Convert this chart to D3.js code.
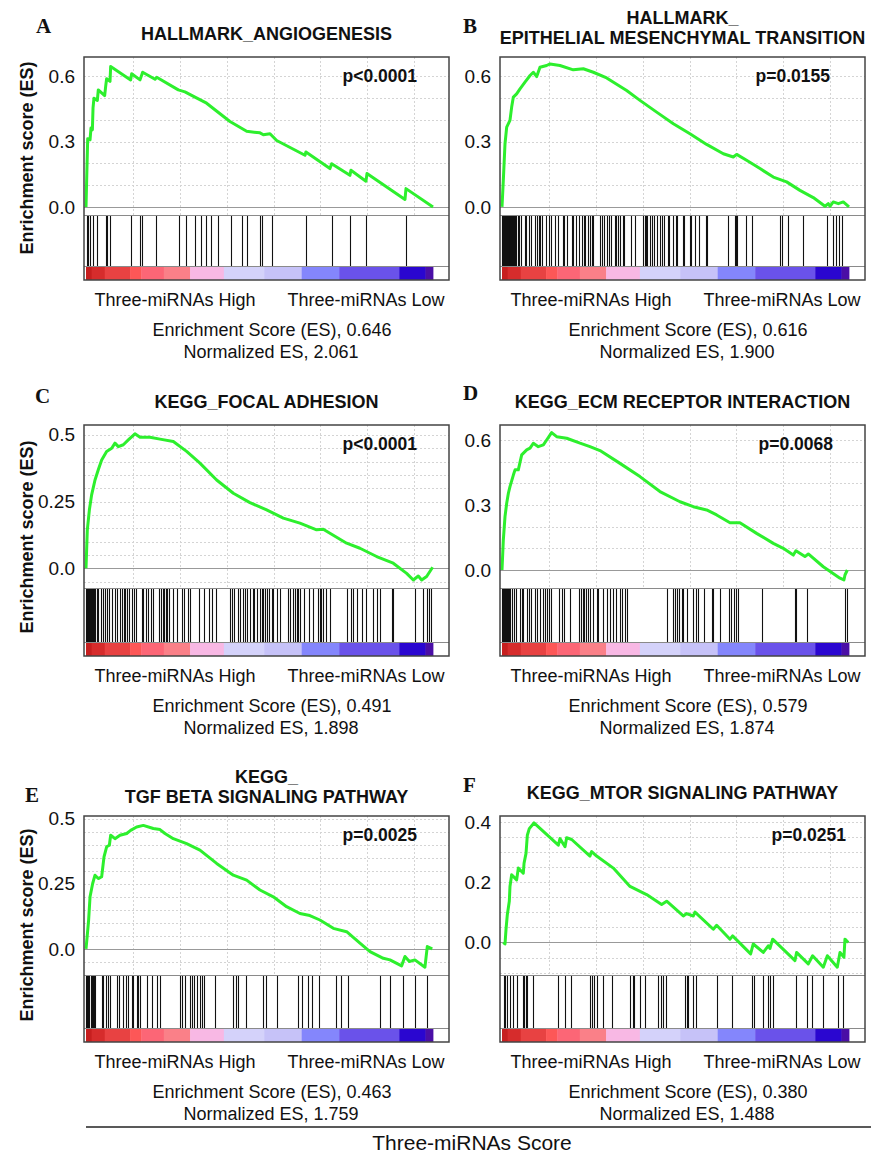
<!DOCTYPE html>
<html>
<head>
<meta charset="utf-8">
<script src="https://cdn.jsdelivr.net/npm/d3@7"></script>
<style>
  html, body { margin: 0; padding: 0; background: #fff; }
  svg { display: block; font-family: "Liberation Sans", Arial, sans-serif; }
</style>
</head>
<body>
<div id="chart"></div>
<script>
// ---- data ----
const panelIds = ["A", "B", "C", "D", "E", "F"];
const panelTitles = [
  ["HALLMARK_ANGIOGENESIS"],
  ["HALLMARK_", "EPITHELIAL MESENCHYMAL TRANSITION"],
  ["KEGG_FOCAL ADHESION"],
  ["KEGG_ECM RECEPTOR INTERACTION"],
  ["KEGG_", "TGF BETA SIGNALING PATHWAY"],
  ["KEGG_MTOR SIGNALING PATHWAY"],
];
const pValues = ["p<0.0001", "p=0.0155", "p<0.0001", "p=0.0068", "p=0.0025", "p=0.0251"];
const esValues = ["0.646", "0.616", "0.491", "0.579", "0.463", "0.380"];
const nesValues = ["2.061", "1.900", "1.898", "1.874", "1.759", "1.488"];
const groupLabels = ["Three-miRNAs High", "Three-miRNAs Low"];
const yAxisTitle = "Enrichment score (ES)";
const bottomTitle = "Three-miRNAs Score";

const yTicks = [[0, 0.3, 0.6], [0, 0.3, 0.6], [0, 0.25, 0.5], [0, 0.3, 0.6], [0, 0.25, 0.5], [0, 0.2, 0.4]];
const yTickLabels = [
  ["0.0", "0.3", "0.6"], ["0.0", "0.3", "0.6"], ["0.0", "0.25", "0.5"],
  ["0.0", "0.3", "0.6"], ["0.0", "0.25", "0.5"], ["0.0", "0.2", "0.4"],
];
const yDomains = [[-0.037, 0.688], [-0.037, 0.688], [-0.074, 0.537], [-0.083, 0.669], [-0.1, 0.51], [-0.108, 0.42]];
const yGridSteps = [0.1, 0.1, 0.05, 0.1, 0.05, 0.05];

const rankCount = 370;
const xGridRanks = [50, 100, 150, 200, 250, 300, 350];

// ranked list colour bar: [start rank, colour]
const heatStops = [
  [0, "#c61f1f"], [6, "#d62c2c"], [20, "#e84242"], [47, "#fd5757"], [59, "#fc6676"],
  [83, "#fa8088"], [111, "#f8b8e4"], [147, "#d4d2fa"], [190, "#c6c2f8"], [230, "#8486fc"],
  [270, "#6a52ea"], [334, "#2a06d0"], [362, "#4a0ea6"],
];

// running enrichment score: [rank, ES]
const curveA = [[0,0],[0.7,0.122],[1.8,0.313],[4.3,0.308],[5.3,0.362],[6.8,0.354],[7.5,0.455],[8.5,0.499],[12.1,0.489],[13.1,0.537],[19.9,0.511],[21,0.554],[22,0.588],[25.6,0.576],[26.3,0.644],[47.6,0.583],[48.7,0.611],[57.6,0.583],[60.4,0.618],[73.6,0.586],[75.4,0.595],[98.4,0.537],[105.5,0.528],[116.2,0.504],[128.6,0.476],[153.5,0.392],[171.3,0.347],[185.5,0.34],[189.1,0.331],[196.2,0.336],[203.3,0.305],[233.5,0.237],[234.5,0.252],[260.1,0.176],[261.9,0.198],[281.4,0.145],[282.5,0.168],[298.5,0.118],[299.6,0.153],[340.1,0.034],[341.2,0.084],[370,0]];
const curveB = [[0,0],[1.4,0.122],[3.2,0.29],[5,0.366],[8.5,0.397],[10.3,0.458],[12.1,0.504],[15.6,0.519],[19.2,0.542],[24.5,0.573],[29.9,0.603],[33.4,0.618],[37,0.598],[40.5,0.641],[47.6,0.649],[51.2,0.656],[61.8,0.649],[76,0.629],[86.7,0.634],[97.4,0.618],[111.6,0.592],[132.9,0.534],[147.1,0.489],[164.9,0.435],[182.7,0.382],[200.4,0.336],[218.2,0.287],[236,0.244],[246.6,0.229],[250.2,0.241],[260.8,0.214],[275.1,0.176],[289.3,0.137],[303.5,0.115],[317.7,0.076],[331.9,0.043],[344.4,0.003],[347.9,0.015],[349.7,0.003],[353.2,0.023],[358.6,0.015],[363.9,0.023],[370,0]];
const curveC = [[0,0],[1.4,0.144],[3.6,0.219],[6,0.275],[9.6,0.331],[13.1,0.369],[16.7,0.406],[22,0.438],[27.4,0.45],[30.9,0.469],[34.5,0.456],[39.8,0.463],[45.1,0.481],[52.2,0.504],[57.6,0.491],[68.2,0.491],[78.9,0.484],[93.1,0.475],[107.3,0.438],[121.5,0.394],[139.3,0.331],[157.1,0.281],[174.8,0.246],[192.6,0.219],[210.4,0.188],[228.1,0.169],[245.9,0.144],[253,0.146],[260.1,0.131],[277.9,0.094],[292.1,0.075],[309.9,0.044],[327.6,0.019],[341.9,-0.019],[349,-0.044],[354.3,-0.029],[357.9,-0.044],[363.2,-0.031],[369.6,0.004]];
const curveD = [[0,0],[1.4,0.138],[3.2,0.246],[5,0.308],[6.8,0.354],[8.5,0.385],[12.1,0.438],[13.9,0.462],[17.4,0.462],[21,0.531],[26.3,0.554],[29.9,0.562],[33.4,0.585],[38.7,0.569],[44.1,0.577],[47.6,0.6],[52.9,0.634],[58.3,0.615],[69,0.608],[83.2,0.585],[93.8,0.569],[104.5,0.551],[125.8,0.492],[147.1,0.431],[168.4,0.362],[189.8,0.315],[204,0.292],[218.2,0.277],[228.9,0.254],[243.1,0.218],[253.7,0.218],[271.5,0.169],[289.3,0.123],[299.9,0.1],[310.6,0.069],[313.4,0.089],[323,0.062],[326.6,0.074],[342.6,0.015],[360.4,-0.038],[364.6,-0.046],[365.7,-0.023],[368.2,0]];
const curveE = [[0,0],[1.4,0.054],[2.8,0.111],[4.3,0.2],[7.1,0.251],[9.6,0.283],[13.1,0.27],[16.7,0.277],[19.2,0.353],[22,0.392],[24.9,0.398],[26.3,0.436],[30.9,0.423],[36.2,0.436],[43.4,0.443],[47.6,0.455],[54,0.468],[61.1,0.474],[71.8,0.462],[78.9,0.458],[84.2,0.443],[93.1,0.423],[107.3,0.404],[121.5,0.379],[139.3,0.328],[157.1,0.283],[171.3,0.264],[185.5,0.226],[199.7,0.2],[213.9,0.162],[228.1,0.136],[238.7,0.128],[249.4,0.111],[263.7,0.079],[277.9,0.066],[292.1,0.022],[302.8,-0.01],[317,-0.036],[324.1,-0.042],[336.5,-0.065],[340.1,-0.029],[344.8,-0.048],[350.7,-0.042],[361.4,-0.07],[363.9,0.009],[369.2,0]];
const curveF = [[1.4,0],[3.2,-0.005],[4.3,0.044],[5.7,0.093],[7.8,0.137],[8.5,0.186],[10.3,0.225],[15.6,0.208],[17.4,0.247],[22.7,0.23],[23.5,0.263],[25.6,0.296],[27,0.356],[29.1,0.378],[34.1,0.397],[60.1,0.323],[61.8,0.345],[67.2,0.318],[68.9,0.348],[74.3,0.342],[93.8,0.287],[95.6,0.302],[100.9,0.287],[118.7,0.247],[136.5,0.186],[154.2,0.159],[170.2,0.126],[175.6,0.137],[193.3,0.088],[196.9,0.096],[204,0.088],[205.8,0.101],[225.3,0.044],[228.9,0.057],[243.1,0.011],[245.9,0.022],[265.1,-0.038],[267.9,-0.005],[278.6,-0.033],[283.9,-0.011],[285.7,-0.02],[288.6,0.011],[312.4,-0.06],[314.1,-0.033],[326.6,-0.071],[331.2,-0.044],[342.6,-0.082],[346.9,-0.044],[357.5,-0.082],[360.4,-0.033],[364.6,-0.049],[365.7,0.011],[369.2,0]];

// gene set hits along the ranked list
const hitsA = [1,2,4,7,12,21,22,26,48,58,60,75,99,107,116,123,128,133,141,155,166,172,186,188,198,235,262,282,299,341];
const hitsB = [0,1,2,3,4,5,6,7,8,9,10,11,12,13,14,15,17,18.5,20,24,26,29,31,35.5,37,39,41,43,47,50.5,52,56,60,65,66.5,69,74.5,76,79,82,85,87,89,92,94,96,97,104,107,109,112,114,116,120,121.5,124,126,128.5,130,137.5,142,150,152,153.5,155,158,160,162,165,168,171,173,176.5,178,182,185.5,187,192.5,194,200,201.5,206,210,217,219,241,248,249.5,251,260,267,296,298.5,304.5,320.5,347,353,356,359.5,362.5];
const hitsC = [0,1,2,3,4,5,6,7,8,9,10,11.4,13,15.6,18,20,22.7,25,27.4,31,32.7,36,38,40,41.6,43.4,46,48.7,51,53.3,59.3,61,64,66.5,69,71,78,79.6,81.7,83,85.3,86.7,89,92.4,96.7,102,104.5,109,111,121,126,131.5,134,138.6,153.5,155.3,158,162.4,164,167,169.5,172,174.8,177.7,179,182,185.5,187.3,189,191,193.3,195.5,198,199.7,203.3,207,215.7,218,221,222.8,224.6,226.4,228,232.4,238,241.6,247.7,249.5,251,253,256,260,278,283,285,289,294,299,306,310,313.4,326,327.6,350.7,359.6,364,366,367.5];
const hitsD = [0,1,2,3,4,5,6,7,8,10.3,12.8,15,19,21,22.7,27,29,30.6,35,37,41,44,46,48.3,50.5,52,61,63.6,66,72,82.4,84,86,87.4,89.6,92,93.8,96.7,101,102.7,108,111.6,115,118.7,122,125.8,127.6,131,133,175.6,182,184.4,187,189,191.5,193.3,197,203.3,207,209.3,215.4,223.5,225.3,232.4,242.4,243.8,247.3,249.5,252,276.8,312.4,314,325.5,365.7,367.5];
const hitsE = [0,1.4,2.5,3.6,5,6,7,8.5,9.6,16.7,18.5,21.3,23.8,25.6,33.4,35.5,39.8,42.6,45,48.7,50.5,54,55.8,57.6,64.7,70,76,79,100,102,105.5,111,112.7,115,118,121.5,123.3,125.8,137.5,157,160,162.4,170.6,189,192,203.3,226.4,230,237,240.6,248.8,267,271.5,279.7,313.4,324,338.3,350.7,363.2];
const hitsF = [2,3.2,5,8.5,11.4,16.3,22,23.5,25.6,27,33.4,60,67.2,73.2,93.8,95.6,98,101,108,117,137,139.3,140.7,147,152.5,166.7,170,172,174.8,195,197,198.7,203.3,206.8,229,244.8,267,268.7,278,284,285.7,288.6,313.4,324.8,331,342.6,358.6,364];

const curves = [curveA, curveB, curveC, curveD, curveE, curveF];
const hitSets = [hitsA, hitsB, hitsC, hitsD, hitsE, hitsF];

// ---- layout ----
const CONFIG = {
  width: 871,
  height: 1155,
  frameWidth: 365,
  cols: [84, 500],
  rows: [
    { top: 57, esBottom: 215, barBottom: 266, frameBottom: 280, labelY: 158 },
    { top: 425, esBottom: 588, barBottom: 642, frameBottom: 656, labelY: 537 },
    { top: 816, esBottom: 975, barBottom: 1028, frameBottom: 1042, labelY: 925 },
  ],
  letterPos: [[36, 33], [463, 33], [35, 403], [463, 400], [25, 802], [463, 792]],
  pInset: [32, 35, 32, 32, 32, 19],
  colors: {
    text: "#111",
    frame: "#444",
    grid: "#d4d4d4",
    zero: "#999",
    curve: "#2def2d",
    hit: "#111",
  },
};

const svg = d3
  .select("#chart")
  .append("svg")
  .attr("width", CONFIG.width)
  .attr("height", CONFIG.height);

svg.append("rect").attr("width", CONFIG.width).attr("height", CONFIG.height).attr("fill", "#fff");

const drawPanel = (i) => {
  const col = i % 2;
  const row = CONFIG.rows[Math.floor(i / 2)];
  const fx = CONFIG.cols[col];
  const fRight = fx + CONFIG.frameWidth;
  const g = svg.append("g");

  const x = d3.scaleLinear().domain([0, rankCount]).range([fx + 2, fx + 349]);
  const y = d3.scaleLinear().domain(yDomains[i]).range([row.esBottom, row.top]);

  // grille pointillée
  const step = yGridSteps[i];
  const dom = yDomains[i];
  const hGrid = d3
    .range(Math.ceil(dom[0] / step), Math.floor(dom[1] / step) + 1)
    .map((k) => +(k * step).toFixed(3))
    .filter((v) => v !== 0);

  g.selectAll(".vgrid")
    .data(xGridRanks)
    .enter()
    .append("line")
    .attr("x1", (d) => Math.round(x(d)) + 0.5)
    .attr("x2", (d) => Math.round(x(d)) + 0.5)
    .attr("y1", row.top)
    .attr("y2", row.esBottom)
    .attr("stroke", CONFIG.colors.grid)
    .attr("stroke-dasharray", "2,2");

  g.selectAll(".hgrid")
    .data(hGrid)
    .enter()
    .append("line")
    .attr("x1", fx)
    .attr("x2", fRight)
    .attr("y1", (d) => Math.round(y(d)) + 0.5)
    .attr("y2", (d) => Math.round(y(d)) + 0.5)
    .attr("stroke", CONFIG.colors.grid)
    .attr("stroke-dasharray", "2,2");

  // ligne zéro
  g.append("line")
    .attr("x1", fx)
    .attr("x2", fRight)
    .attr("y1", Math.round(y(0)) + 0.5)
    .attr("y2", Math.round(y(0)) + 0.5)
    .attr("stroke", CONFIG.colors.zero);

  // barcode des gènes
  g.selectAll(".hit")
    .data(hitSets[i])
    .enter()
    .append("line")
    .attr("x1", (d) => Math.round(x(d)) + 0.5)
    .attr("x2", (d) => Math.round(x(d)) + 0.5)
    .attr("y1", row.esBottom)
    .attr("y2", row.barBottom)
    .attr("stroke", CONFIG.colors.hit)
    .attr("stroke-width", 1.1);

  // bande de couleur du classement
  g.selectAll(".heat")
    .data(heatStops)
    .enter()
    .append("rect")
    .attr("x", (d) => x(d[0]))
    .attr("width", (d, k) => x(k + 1 < heatStops.length ? heatStops[k + 1][0] : rankCount) - x(d[0]) + 0.4)
    .attr("y", row.barBottom)
    .attr("height", row.frameBottom - row.barBottom)
    .attr("fill", (d) => d[1]);

  // séparateurs
  [row.esBottom, row.barBottom].forEach((yy) => {
    g.append("line")
      .attr("x1", fx)
      .attr("x2", fRight)
      .attr("y1", yy + 0.5)
      .attr("y2", yy + 0.5)
      .attr("stroke", "#8a8a8a");
  });

  // courbe ES
  const line = d3
    .line()
    .x((d) => x(d[0]))
    .y((d) => y(d[1]));

  g.append("path")
    .datum(curves[i])
    .attr("fill", "none")
    .attr("stroke", CONFIG.colors.curve)
    .attr("stroke-width", 3)
    .attr("stroke-linejoin", "round")
    .attr("d", line);

  // cadre
  g.append("rect")
    .attr("x", fx)
    .attr("y", row.top)
    .attr("width", CONFIG.frameWidth)
    .attr("height", row.frameBottom - row.top)
    .attr("fill", "none")
    .attr("stroke", CONFIG.colors.frame)
    .attr("stroke-width", 1.5);

  // axe Y
  g.append("g")
    .attr("transform", `translate(${fx},0)`)
    .call(
      d3
        .axisLeft(y)
        .tickValues(yTicks[i])
        .tickFormat((d, k) => yTickLabels[i][k])
        .tickSize(0)
        .tickPadding(9)
    )
    .call((a) => {
      a.select(".domain").remove();
      a.selectAll(".tick text")
        .attr("fill", CONFIG.colors.text)
        .style("font-family", '"Liberation Sans", Arial, sans-serif')
        .style("font-size", "19px");
    });

  if (col === 0) {
    g.append("text")
      .attr("transform", `translate(27,${row.labelY}) rotate(-90)`)
      .attr("text-anchor", "middle")
      .attr("dominant-baseline", "central")
      .attr("fill", CONFIG.colors.text)
      .style("font-size", "18px")
      .style("font-weight", "bold")
      .text(yAxisTitle);
  }

  // titre
  const cx = fx + CONFIG.frameWidth / 2;
  const lines = panelTitles[i];
  lines.forEach((t, k) => {
    const base = lines.length === 1 ? row.top - 17 : row.top - 33 + k * 20;
    g.append("text")
      .attr("x", cx)
      .attr("y", base)
      .attr("text-anchor", "middle")
      .attr("fill", CONFIG.colors.text)
      .style("font-size", "18px")
      .style("font-weight", "bold")
      .text(t);
  });

  // lettre du panneau
  g.append("text")
    .attr("x", CONFIG.letterPos[i][0])
    .attr("y", CONFIG.letterPos[i][1])
    .attr("fill", CONFIG.colors.text)
    .style("font-family", '"Liberation Serif", "Times New Roman", serif')
    .style("font-size", "21px")
    .style("font-weight", "bold")
    .text(panelIds[i]);

  // p-value
  g.append("text")
    .attr("x", fRight - CONFIG.pInset[i])
    .attr("y", row.top + 25)
    .attr("text-anchor", "end")
    .attr("fill", CONFIG.colors.text)
    .style("font-size", "17.5px")
    .style("font-weight", "bold")
    .text(pValues[i]);

  // libellés sous le graphique
  const under = [
    { x: fx + 91, dy: 26, t: groupLabels[0] },
    { x: fx + 282, dy: 26, t: groupLabels[1] },
    { x: fx + 188, dy: 56, t: `Enrichment Score (ES), ${esValues[i]}` },
    { x: fx + 187, dy: 78, t: `Normalized ES, ${nesValues[i]}` },
  ];
  under.forEach((u) => {
    g.append("text")
      .attr("x", u.x)
      .attr("y", row.frameBottom + u.dy)
      .attr("text-anchor", "middle")
      .attr("fill", CONFIG.colors.text)
      .style("font-size", "18px")
      .text(u.t);
  });
};

panelIds.forEach((_, i) => drawPanel(i));

// trait et titre commun
svg.append("line")
  .attr("x1", 86)
  .attr("x2", CONFIG.width)
  .attr("y1", 1127)
  .attr("y2", 1127)
  .attr("stroke", "#222")
  .attr("stroke-width", 1.5);

svg.append("text")
  .attr("x", 472)
  .attr("y", 1150)
  .attr("text-anchor", "middle")
  .attr("fill", CONFIG.colors.text)
  .style("font-size", "21px")
  .text(bottomTitle);
</script>
</body>
</html>
